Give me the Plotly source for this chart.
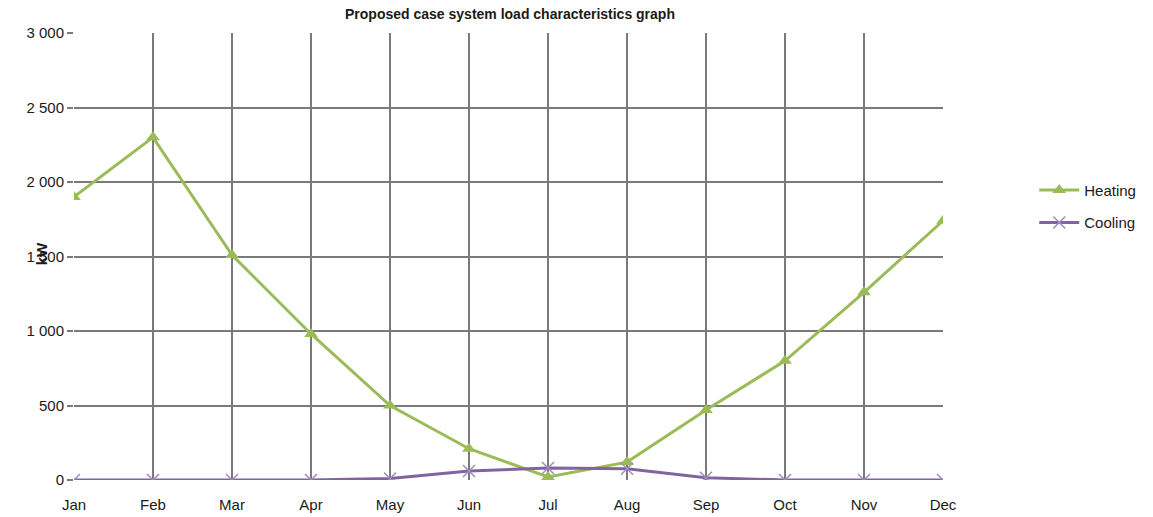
import plotly.graph_objects as go

months = ["Jan", "Feb", "Mar", "Apr", "May", "Jun", "Jul", "Aug", "Sep", "Oct", "Nov", "Dec"]
heating = [1900, 2300, 1510, 980, 500, 210, 20, 120, 470, 800, 1260, 1740]
cooling = [0, 0, 0, 0, 10, 60, 80, 75, 15, 0, 0, 0]
y_ticks = [0, 500, 1000, 1500, 2000, 2500, 3000]

GREEN = "#9BBB59"
PURPLE = "#8064A2"
GRID = "#7a7a7a"
FONT = "Liberation Sans, Arial, sans-serif"

fig = go.Figure()
fig.add_trace(go.Scatter(
    x=months, y=heating, name="Heating", mode="lines+markers", legendgroup="h",
    line=dict(color=GREEN, width=3),
    marker=dict(symbol="triangle-up", size=12, color=GREEN),
))
fig.add_trace(go.Scatter(
    x=months, y=cooling, name="Cooling", mode="lines+markers", legendgroup="c",
    line=dict(color=PURPLE, width=3),
    marker=dict(symbol="x-thin", size=12, line=dict(color="#a08cc0", width=1.5)),
))

fig.update_layout(
    width=1153, height=517,
    margin=dict(l=74, r=207, t=33, b=37),
    paper_bgcolor="white", plot_bgcolor="white",
    separators=". ",
    font=dict(family=FONT, size=15, color="#1a1a1a"),
    title=dict(text="<b>Proposed case system load characteristics graph</b>",
               x=(74 + 946) / 2 / 1153, xanchor="center", y=0.972, yanchor="middle",
               font=dict(size=14, family=FONT, color="#1a1a1a")),
    showlegend=True,
    legend=dict(x=1.105, xanchor="left", y=0.685, yanchor="top",
                font=dict(size=15, family=FONT), tracegroupgap=10,
                itemwidth=40, bgcolor="rgba(0,0,0,0)"),
    xaxis=dict(type="category", range=[0, 11], showgrid=True, gridcolor=GRID, gridwidth=1.5,
               showline=False, zeroline=False, ticks="", ticklabelstandoff=14,
               automargin=False, tickfont=dict(size=15)),
    yaxis=dict(range=[0, 3000], tickvals=y_ticks, tickformat=",d", showgrid=True,
               gridcolor=GRID, gridwidth=1.5, zeroline=False, showline=False,
               ticks="outside", ticklen=6, tickcolor=GRID, tickwidth=1.5,
               automargin=False, tickfont=dict(size=15)),
)

fig.add_annotation(text="<b>kW</b>", xref="paper", yref="paper", x=-0.05, y=0.505,
                   textangle=-90, showarrow=False, font=dict(size=15, family=FONT, color="#1a1a1a"))

fig.write_html("out.html")
